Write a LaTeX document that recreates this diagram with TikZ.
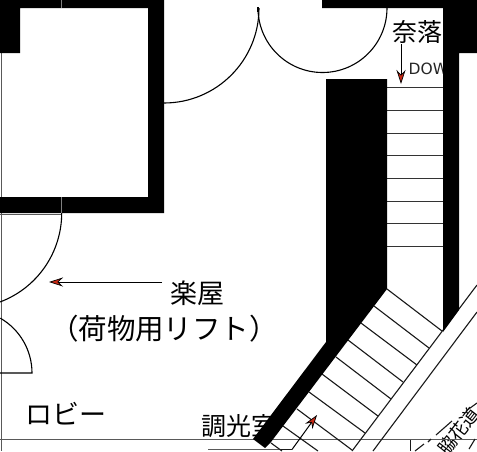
\documentclass[tikz,border=0pt]{standalone}
\usepackage{fontspec}
\newfontfamily\jpfont{Noto Sans CJK JP}
\newfontfamily\latfont{DejaVu Sans}
\usetikzlibrary{arrows.meta}
\definecolor{tipred}{RGB}{200,40,20}
\tikzset{
  wall/.style={fill=black,draw=none},
  thin line/.style={line width=1.1pt,draw=black!90},
  grey line/.style={line width=1pt,draw=black!65},
  door/.style={line width=1.1pt,draw=black},
  label/.style={font=\jpfont\fontsize{27}{27}\selectfont,inner sep=0pt,text=black},
  pointer/.style={line width=1pt,draw=black,-{Stealth[length=14pt,width=9pt,fill=tipred,line width=0.7pt]}},
}
\begin{document}
\begin{tikzpicture}[x=1pt,y=-1pt]
\useasboundingbox (0,0) rectangle (477,451);
\clip (0,0) rectangle (477,451);
\fill[white] (0,0) rectangle (477,451);
% text lying beneath the walls
\node[font=\latfont\fontsize{15.5}{15.5}\selectfont,inner sep=0pt,anchor=west,text=black!85] (down) at (408.5,69) {DOWN};
\node[label,font=\jpfont\fontsize{25}{25}\selectfont,anchor=west] (dimmer) at (201,426) {調光室};
\node[label,font=\jpfont\fontsize{25}{25}\selectfont] (naraku) at (417,32) {奈落};
\node[label] (gakuya) at (197,293) {楽屋};
\node[label,font=\jpfont\fontsize{28.5}{28.5}\selectfont] (lift) at (164,329) {（荷物用リフト）};
\node[label,anchor=west] (lobby) at (25,414) {ロビー};
\node[font=\jpfont\fontsize{18}{18}\selectfont,inner sep=0pt,rotate=52,text=black] (hanamichi) at (459,431) {脇花道};
% grid lines
\draw[grey line] (1.5,53) -- (1.5,451);
\draw[grey line] (0,439.5) -- (477,439.5);
\draw[thin line] (410.5,439.5) -- (410.5,451);
\draw[grey line] (0,214) -- (61.5,214);
\draw[grey line] (208,449.5) -- (281,449.5);
% horizontal stair treads
\foreach \y in {87,110,133,155.5,178,201,223,246}
  \draw[grey line,draw=black!80] (387,\y) -- (443,\y);
\draw[grey line] (326,79) -- (387,79);
% diagonal stair treads
\foreach \ax/\ay/\bx/\by in {387/289/442/331,374/306/429/348,361/323/417/365,348/340/403/382,336/357/391/399,322/374/378/416,309/392/365/433,297/409/352/450,283/426/318/451,271/443/282/451}
  \draw[thin line] (\ax,\ay) -- (\bx,\by);
% corridor edges
\draw[thin line] (477,285) -- (352,451);
\draw[thin line] (477,312) -- (373,451);
\draw[thin line] (477,403) -- (466,411);
\draw[thin line] (452,421) -- (436,435);
\draw[thin line] (431,439) -- (428,442);
\draw[thin line] (424,444) -- (415,451);
\draw[thin line] (475,439) -- (469,449);
% door swings
\draw[door] (164,103) arc[start angle=90,end angle=0,radius=95];
\draw[door] (258,8) arc[start angle=180,end angle=0,radius=64.5];
\draw[door] (61.7,213) arc[start angle=0,end angle=69.5,radius=95];
\draw[door] (0,373) -- (32,373) arc[start angle=0,end angle=-60,radius=63.3];
% walls
\fill[wall] (0,0) -- (164,0) -- (164,213) -- (0,213) -- (0,197) -- (148,197) -- (148,8) -- (20,8) -- (20,53) -- (0,53) -- cycle;
\fill[wall] (322,0) -- (477,0) -- (477,53) -- (459,53) -- (459,310) -- (443,332) -- (443,8) -- (322,8) -- cycle;
\fill[wall] (326,79) -- (387,79) -- (387,289) -- (271,442) -- (265,448) -- (253,439) -- (326,342) -- cycle;
\draw[line width=0.6pt,draw=black!50] (61.5,0) -- (61.5,8) (61.5,197) -- (61.5,213);
\draw[door] (258,7) -- (258,12);
% pointers
\coordinate (gakuyatail) at (162,282);
\coordinate (gakuyatip) at (49,282);
\coordinate (narakutail) at (401,44);
\coordinate (narakutip) at (401,84);
\coordinate (dimmerbend) at (292,449.5);
\coordinate (dimmertip) at (317,415);
\draw[pointer] (gakuyatail) -- (gakuyatip);
\draw[pointer] (narakutail) -- (narakutip);
\draw[pointer] (dimmerbend) -- (dimmertip);
\draw[thin line] (281,449.5) -- (dimmerbend);
\end{tikzpicture}
\end{document}
